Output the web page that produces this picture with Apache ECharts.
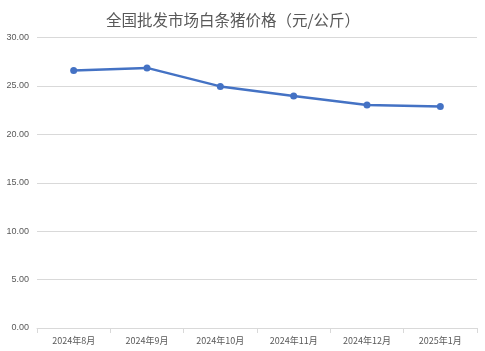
<!DOCTYPE html>
<html><head><meta charset="utf-8">
<script src="https://cdn.jsdelivr.net/npm/echarts@6/dist/echarts.min.js"></script>
<style>html,body{margin:0;padding:0;background:#fff}#c{width:485px;height:351px}</style>
</head><body><div id="c"></div>
<script>
const titleText = '全国批发市场白条猪价格（元/公斤）';
const categories = ['2024年8月','2024年9月','2024年10月','2024年11月','2024年12月','2025年1月'];
const prices = [26.6, 26.86, 24.95, 23.97, 23.04, 22.88];
const yTicks = [0, 5, 10, 15, 20, 25, 30];

const chart = echarts.init(document.getElementById('c'), null, {renderer:'canvas'});
chart.setOption({
  animation:false,
  backgroundColor:'#fff',
  title:{text:titleText,left:101,top:7,textStyle:{fontFamily:'Noto Sans CJK SC',fontSize:15.5,fontWeight:'normal',color:'#595959'}},
  grid:{left:37,right:8,top:37.5,bottom:23,containLabel:false},
  xAxis:{type:'category',data:categories,boundaryGap:true,
    axisLine:{lineStyle:{color:'#d9d9d9'}},
    axisTick:{show:true,length:5,lineStyle:{color:'#d9d9d9'}},
    axisLabel:{color:'#595959',fontSize:9,fontFamily:'Noto Sans CJK SC',margin:8}},
  yAxis:{type:'value',min:yTicks[0],max:yTicks[yTicks.length-1],interval:5,
    axisLine:{show:false},axisTick:{show:false},
    splitLine:{lineStyle:{color:'#d9d9d9'}},
    axisLabel:{color:'#595959',fontSize:9,fontFamily:'Liberation Sans',margin:8,formatter:v=>v.toFixed(2)}},
  series:[{type:'line',data:prices,symbol:'circle',symbolSize:7,
    lineStyle:{color:'#4472C4',width:2.5},itemStyle:{color:'#4472C4'}}]
});
</script></body></html>
